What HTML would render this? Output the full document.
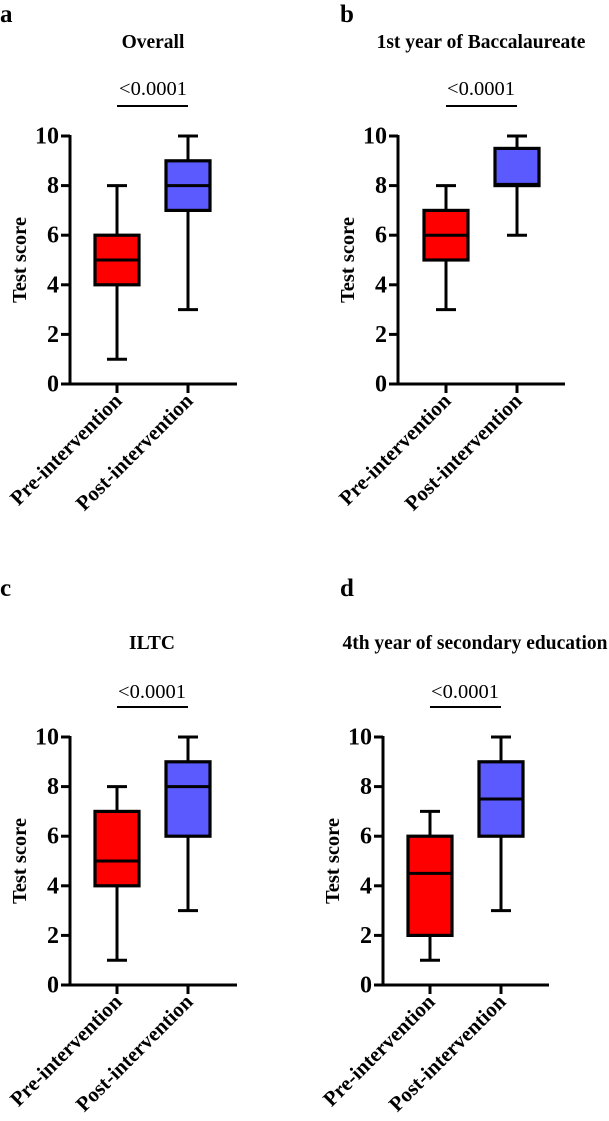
<!DOCTYPE html>
<html><head><meta charset="utf-8"><style>
html,body{margin:0;padding:0;background:#fff}
svg{display:block;font-family:"Liberation Serif",serif}
</style></head><body>
<svg id="fig" width="609" height="1121" viewBox="0 0 609 1121"></svg>
<script>
const categories = ["Pre-intervention", "Post-intervention"];
const yTicks = [0, 2, 4, 6, 8, 10];
const tickLabels = ["0", "2", "4", "6", "8", "10"];
const panelTitles = ["Overall", "1st year of Baccalaureate", "ILTC", "4th year of secondary education"];
const panelLetters = ["a", "b", "c", "d"];
const pValues = ["<0.0001", "<0.0001", "<0.0001", "<0.0001"];
// [min, q1, median, q3, max]
const preA = [1, 4, 5, 6, 8];
const postA = [3, 7, 8, 9, 10];
const preB = [3, 5, 6, 7, 8];
const postB = [6, 8, 8.05, 9.5, 10];
const preC = [1, 4, 5, 7, 8];
const postC = [3, 6, 8, 9, 10];
const preD = [1, 2, 4.5, 6, 7];
const postD = [3, 6, 7.5, 9, 10];
const seriesData = [[preA, postA], [preB, postB], [preC, postC], [preD, postD]];
const colors = ["#ff0000", "#5a5aff"];

const layouts = [
  {ax:70, y10:136, y0:384, cx:[117,188], xe:237, lx:0, ly:22, tx:153, ty:48, px:153, py:95, ply:106},
  {ax:398, y10:136, y0:384, cx:[446,517], xe:565, lx:340, ly:22, tx:481, ty:48, px:481, py:95, ply:106},
  {ax:70, y10:737, y0:985, cx:[117,188], xe:237, lx:0, ly:596, tx:152, ty:649, px:152, py:698, ply:707},
  {ax:383, y10:737, y0:985, cx:[430,501], xe:549, lx:340, ly:596, tx:475, ty:649, px:465, py:698, ply:707}
];
const NS = "http://www.w3.org/2000/svg";
const svg = document.getElementById("fig");
function mk(tag, attrs, parent, txt){
  const e = document.createElementNS(NS, tag);
  for (const k in attrs) e.setAttribute(k, attrs[k]);
  if (txt !== undefined) e.textContent = txt;
  (parent || svg).appendChild(e);
  return e;
}
layouts.forEach((L, i) => {
  const g = mk("g", {});
  
  
  const yS = v => L.y0 - (v / 10) * (L.y0 - L.y10);
  const lab = mk("text", {x:L.lx, y:L.ly, "font-size":25, "font-weight":"bold"}, g, panelLetters[i]);
  
  
  const t = mk("text", {x:L.tx, y:L.ty, "font-size":19.5, "font-weight":"bold", "text-anchor":"middle"}, g, panelTitles[i]);
  
  
  const p = mk("text", {x:L.px, y:L.py, "font-size":20.5, "text-anchor":"middle"}, g, pValues[i]);
  
  
  const pl = mk("line", {x1:L.cx[0], x2:L.cx[1], y1:L.ply, y2:L.ply, stroke:"#000", "stroke-width":2}, g);
  
  
  const ya = mk("line", {x1:L.ax, x2:L.ax, y1:L.y10-1, y2:L.y0+1.5, stroke:"#000", "stroke-width":3}, g);
  
  
  const xa = mk("line", {x1:L.ax-1.5, x2:L.xe, y1:L.y0, y2:L.y0, stroke:"#000", "stroke-width":3}, g);
  
  
  yTicks.forEach((v, k) => {
    const y = yS(v);
    mk("line", {x1:L.ax-9, x2:L.ax, y1:y, y2:y, stroke:"#000", "stroke-width":3}, g);
    const tl = mk("text", {x:L.ax-11, y:y+7.5, "font-size":24, "font-weight":"bold", "text-anchor":"end"}, g, tickLabels[k]);
    
    
  });
  const yt = mk("text", {x:0, y:0, "font-size":20.5, "font-weight":"bold", "text-anchor":"middle",
    transform:`translate(${L.ax-44},${(L.y0+L.y10)/2}) rotate(-90)`}, g, "Test score");
  
  
  categories.forEach((c, k) => {
    const x = L.cx[k];
    mk("line", {x1:x, x2:x, y1:L.y0, y2:L.y0+9, stroke:"#000", "stroke-width":3}, g);
    const cl = mk("text", {x:0, y:0, "font-size":21, "font-weight":"bold", "text-anchor":"end",
      transform:`translate(${x+6},${L.y0+18}) rotate(-45)`}, g, c);
    
    
    const d = seriesData[i][k];
    const bw = 44, cw = 20;
    const wh = mk("line", {x1:x, x2:x, y1:yS(d[4]), y2:yS(d[0]), stroke:"#000", "stroke-width":3}, g);
    
    
    [d[0], d[4]].forEach(v => {
      const cap = mk("line", {x1:x-cw/2, x2:x+cw/2, y1:yS(v), y2:yS(v), stroke:"#000", "stroke-width":3}, g);
      
      
    });
    const box = mk("rect", {x:x-bw/2, y:yS(d[3]), width:bw, height:yS(d[1])-yS(d[3]), fill:colors[k], stroke:"#000", "stroke-width":3.2}, g);
    
    
    const med = mk("line", {x1:x-bw/2, x2:x+bw/2, y1:yS(d[2]), y2:yS(d[2]), stroke:"#000", "stroke-width":3}, g);
    
    
  });
});
</script>
</body></html>
